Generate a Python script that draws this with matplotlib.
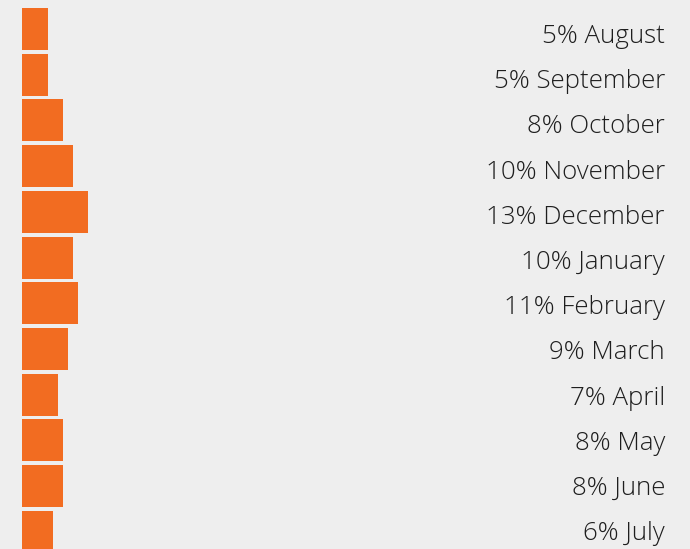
import matplotlib.pyplot as plt
from matplotlib import font_manager

months = ['August', 'September', 'October', 'November', 'December', 'January',
          'February', 'March', 'April', 'May', 'June', 'July']
shares = [5, 5, 8, 10, 13, 10, 11, 9, 7, 8, 8, 6]

bg = '#eeeeee'
orange = '#f26c21'

# pick a light font if present
names = {f.name for f in font_manager.fontManager.ttflist}
family = 'Open Sans' if 'Open Sans' in names else 'DejaVu Sans'

fig = plt.figure(figsize=(6.9, 5.49), dpi=100, facecolor=bg)
ax = fig.add_axes([0, 0, 1, 1])
ax.set_facecolor(bg)

px_per_pct = 5.1
step = 45.7
ax.set_xlim(-22 / px_per_pct, (690 - 22) / px_per_pct)
ax.set_ylim((549 - 29) / step, -29 / step)

ypos = list(range(len(months)))
ax.barh(ypos, shares, height=42 / step, color=orange, align='center')

# labels sit on their own slightly tighter rhythm (baseline in pixels)
label_step = 45.2
for i, (m, s) in enumerate(zip(months, shares)):
    base_px = 43 + label_step * i
    ax.text(665 / 690, (base_px - 29) / step, f'{s}% {m}',
            transform=ax.get_yaxis_transform(),
            ha='right', va='baseline', fontsize=18.6, color='#1e1e1e',
            family=family, fontweight='light')

ax.axis('off')
fig.savefig('out.png', dpi=100, facecolor=bg)
